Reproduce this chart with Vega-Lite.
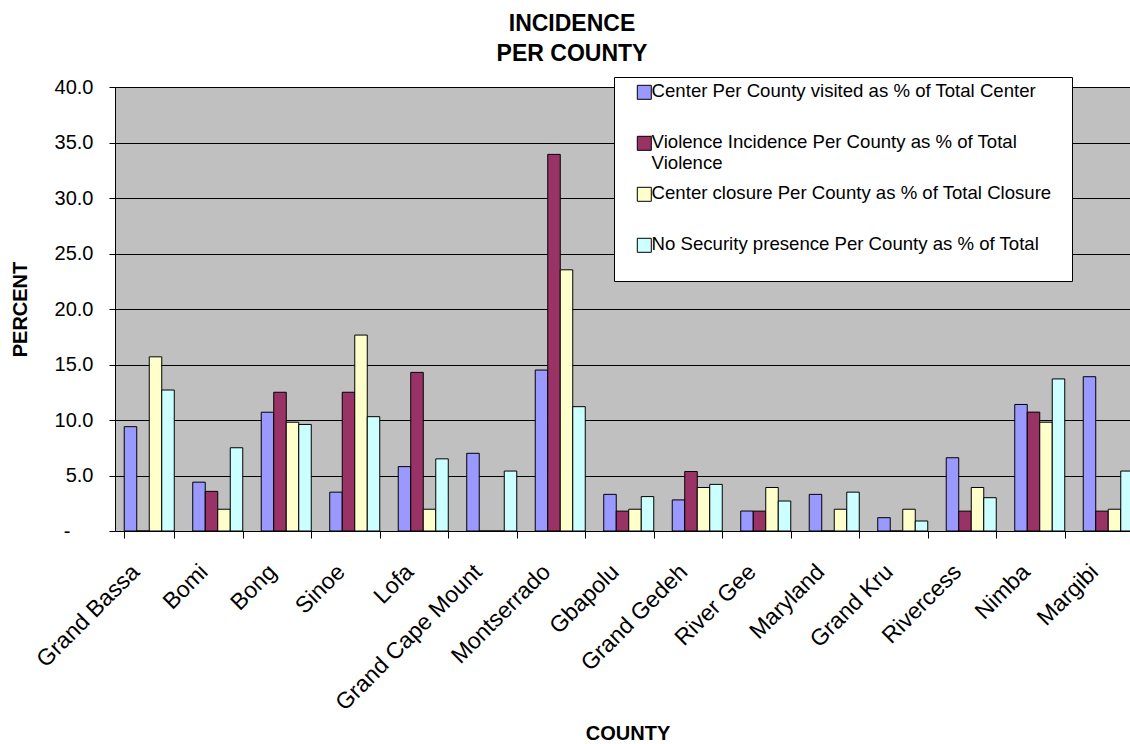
{
  "$schema": "https://vega.github.io/schema/vega-lite/v6.json",
  "autosize": {"type": "none"},
  "padding": {"left": 115, "top": 87, "right": 0, "bottom": 213},
  "width": 1015,
  "height": 444,
  "background": "white",
  "config": {"view": {"fill": "#C0C0C0", "stroke": null}, "font": "Liberation Sans"},
  "title": {"text": ["INCIDENCE", "PER COUNTY"], "fontSize": 23, "fontWeight": "bold", "font": "Liberation Sans", "color": "black", "lineHeight": 30, "anchor": "middle", "dx": -50.5, "dy": -7},
  "data": {"values": [
    {"county": "Grand Bassa", "series": "Center Per County visited as % of Total Center", "value": 9.4},
    {"county": "Grand Bassa", "series": "Violence Incidence Per County as % of Total Violence", "value": 0},
    {"county": "Grand Bassa", "series": "Center closure Per County as % of Total Closure", "value": 15.69},
    {"county": "Grand Bassa", "series": "No Security presence Per County as % of Total", "value": 12.7},
    {"county": "Bomi", "series": "Center Per County visited as % of Total Center", "value": 4.4},
    {"county": "Bomi", "series": "Violence Incidence Per County as % of Total Violence", "value": 3.57},
    {"county": "Bomi", "series": "Center closure Per County as % of Total Closure", "value": 1.96},
    {"county": "Bomi", "series": "No Security presence Per County as % of Total", "value": 7.5},
    {"county": "Bong", "series": "Center Per County visited as % of Total Center", "value": 10.7},
    {"county": "Bong", "series": "Violence Incidence Per County as % of Total Violence", "value": 12.5},
    {"county": "Bong", "series": "Center closure Per County as % of Total Closure", "value": 9.8},
    {"county": "Bong", "series": "No Security presence Per County as % of Total", "value": 9.6},
    {"county": "Sinoe", "series": "Center Per County visited as % of Total Center", "value": 3.5},
    {"county": "Sinoe", "series": "Violence Incidence Per County as % of Total Violence", "value": 12.5},
    {"county": "Sinoe", "series": "Center closure Per County as % of Total Closure", "value": 17.65},
    {"county": "Sinoe", "series": "No Security presence Per County as % of Total", "value": 10.3},
    {"county": "Lofa", "series": "Center Per County visited as % of Total Center", "value": 5.8},
    {"county": "Lofa", "series": "Violence Incidence Per County as % of Total Violence", "value": 14.29},
    {"county": "Lofa", "series": "Center closure Per County as % of Total Closure", "value": 1.96},
    {"county": "Lofa", "series": "No Security presence Per County as % of Total", "value": 6.5},
    {"county": "Grand Cape Mount", "series": "Center Per County visited as % of Total Center", "value": 7.0},
    {"county": "Grand Cape Mount", "series": "Violence Incidence Per County as % of Total Violence", "value": 0},
    {"county": "Grand Cape Mount", "series": "Center closure Per County as % of Total Closure", "value": 0},
    {"county": "Grand Cape Mount", "series": "No Security presence Per County as % of Total", "value": 5.4},
    {"county": "Montserrado", "series": "Center Per County visited as % of Total Center", "value": 14.5},
    {"county": "Montserrado", "series": "Violence Incidence Per County as % of Total Violence", "value": 33.93},
    {"county": "Montserrado", "series": "Center closure Per County as % of Total Closure", "value": 23.53},
    {"county": "Montserrado", "series": "No Security presence Per County as % of Total", "value": 11.2},
    {"county": "Gbapolu", "series": "Center Per County visited as % of Total Center", "value": 3.3},
    {"county": "Gbapolu", "series": "Violence Incidence Per County as % of Total Violence", "value": 1.79},
    {"county": "Gbapolu", "series": "Center closure Per County as % of Total Closure", "value": 1.96},
    {"county": "Gbapolu", "series": "No Security presence Per County as % of Total", "value": 3.1},
    {"county": "Grand Gedeh", "series": "Center Per County visited as % of Total Center", "value": 2.8},
    {"county": "Grand Gedeh", "series": "Violence Incidence Per County as % of Total Violence", "value": 5.36},
    {"county": "Grand Gedeh", "series": "Center closure Per County as % of Total Closure", "value": 3.92},
    {"county": "Grand Gedeh", "series": "No Security presence Per County as % of Total", "value": 4.2},
    {"county": "River Gee", "series": "Center Per County visited as % of Total Center", "value": 1.8},
    {"county": "River Gee", "series": "Violence Incidence Per County as % of Total Violence", "value": 1.79},
    {"county": "River Gee", "series": "Center closure Per County as % of Total Closure", "value": 3.92},
    {"county": "River Gee", "series": "No Security presence Per County as % of Total", "value": 2.7},
    {"county": "Maryland", "series": "Center Per County visited as % of Total Center", "value": 3.3},
    {"county": "Maryland", "series": "Violence Incidence Per County as % of Total Violence", "value": 0},
    {"county": "Maryland", "series": "Center closure Per County as % of Total Closure", "value": 1.96},
    {"county": "Maryland", "series": "No Security presence Per County as % of Total", "value": 3.5},
    {"county": "Grand Kru", "series": "Center Per County visited as % of Total Center", "value": 1.2},
    {"county": "Grand Kru", "series": "Violence Incidence Per County as % of Total Violence", "value": 0},
    {"county": "Grand Kru", "series": "Center closure Per County as % of Total Closure", "value": 1.96},
    {"county": "Grand Kru", "series": "No Security presence Per County as % of Total", "value": 0.9},
    {"county": "Rivercess", "series": "Center Per County visited as % of Total Center", "value": 6.6},
    {"county": "Rivercess", "series": "Violence Incidence Per County as % of Total Violence", "value": 1.79},
    {"county": "Rivercess", "series": "Center closure Per County as % of Total Closure", "value": 3.92},
    {"county": "Rivercess", "series": "No Security presence Per County as % of Total", "value": 3.0},
    {"county": "Nimba", "series": "Center Per County visited as % of Total Center", "value": 11.4},
    {"county": "Nimba", "series": "Violence Incidence Per County as % of Total Violence", "value": 10.71},
    {"county": "Nimba", "series": "Center closure Per County as % of Total Closure", "value": 9.8},
    {"county": "Nimba", "series": "No Security presence Per County as % of Total", "value": 13.7},
    {"county": "Margibi", "series": "Center Per County visited as % of Total Center", "value": 13.9},
    {"county": "Margibi", "series": "Violence Incidence Per County as % of Total Violence", "value": 1.79},
    {"county": "Margibi", "series": "Center closure Per County as % of Total Closure", "value": 1.96},
    {"county": "Margibi", "series": "No Security presence Per County as % of Total", "value": 5.4}
  ]},
  "mark": {"type": "bar", "stroke": "black", "strokeWidth": 1},
  "encoding": {
    "x": {
      "field": "county", "type": "nominal",
      "sort": ["Grand Bassa", "Bomi", "Bong", "Sinoe", "Lofa", "Grand Cape Mount", "Montserrado", "Gbapolu", "Grand Gedeh", "River Gee", "Maryland", "Grand Kru", "Rivercess", "Nimba", "Margibi"],
      "scale": {"range": [0, 1027.5], "paddingInner": 0.27, "paddingOuter": 0.135},
      "axis": {
        "title": "COUNTY", "titleFontSize": 20, "titleFontWeight": "bold", "titleColor": "black",
        "titleX": 512.5, "titleY": 202, "titleBaseline": "middle", "titleAlign": "center",
        "labelAngle": -45, "labelAlign": "right", "labelBaseline": "middle",
        "labelFontSize": 23, "labelColor": "black", "labelOffset": -14, "labelPadding": 30, "labelLimit": 400,
        "tickSize": 7, "tickBand": "extent", "tickColor": "black", "domainColor": "black", "grid": false
      }
    },
    "xOffset": {
      "field": "series",
      "sort": ["Center Per County visited as % of Total Center", "Violence Incidence Per County as % of Total Violence", "Center closure Per County as % of Total Closure", "No Security presence Per County as % of Total"],
      "scale": {"paddingInner": 0, "paddingOuter": 0}
    },
    "y": {
      "field": "value", "type": "quantitative",
      "scale": {"domain": [0, 40], "nice": false},
      "axis": {
        "values": [0, 5, 10, 15, 20, 25, 30, 35, 40],
        "labelExpr": "datum.value == 0 ? '-' : format(datum.value, '.1f')",
        "labelFontSize": 20, "labelColor": "black",
        "labelPadding": {"condition": {"test": "datum.value == 0", "value": 39}, "value": 16},
        "tickSize": 6,
        "tickColor": "black", "domainColor": "black", "gridColor": "black", "gridOpacity": 1, "grid": true,
        "title": "PERCENT", "titleFontSize": 20, "titleFontWeight": "bold", "titleColor": "black",
        "titleX": -95, "titleY": 222, "titleAngle": -90, "titleBaseline": "middle", "titleAlign": "center"
      }
    },
    "color": {
      "field": "series", "type": "nominal",
      "scale": {
        "domain": ["Center Per County visited as % of Total Center", "Violence Incidence Per County as % of Total Violence", "Center closure Per County as % of Total Closure", "No Security presence Per County as % of Total"],
        "range": ["#9999FF", "#993366", "#FFFFCC", "#CCFFFF"]
      },
      "legend": {
        "orient": "none", "legendX": 499, "legendY": -10, "title": null,
        "fillColor": "white", "strokeColor": "black", "padding": 6,
        "symbolType": "square", "symbolSize": 196, "symbolStrokeColor": "black", "symbolStrokeWidth": 1, "symbolOffset": 15,
        "labelFontSize": 18.6, "labelColor": "black", "labelLimit": 600, "labelOffset": -2, "rowPadding": 11,
        "labelBaseline": "top",
        "labelExpr": "datum.label == 'Violence Incidence Per County as % of Total Violence' ? ['Violence Incidence Per County as % of Total', 'Violence'] : [datum.label + '\u2800', '']",
        "encode": {"labels": {"update": {"lineHeight": {"value": 21}, "dy": {"value": -10}}}}
      }
    }
  }
}
